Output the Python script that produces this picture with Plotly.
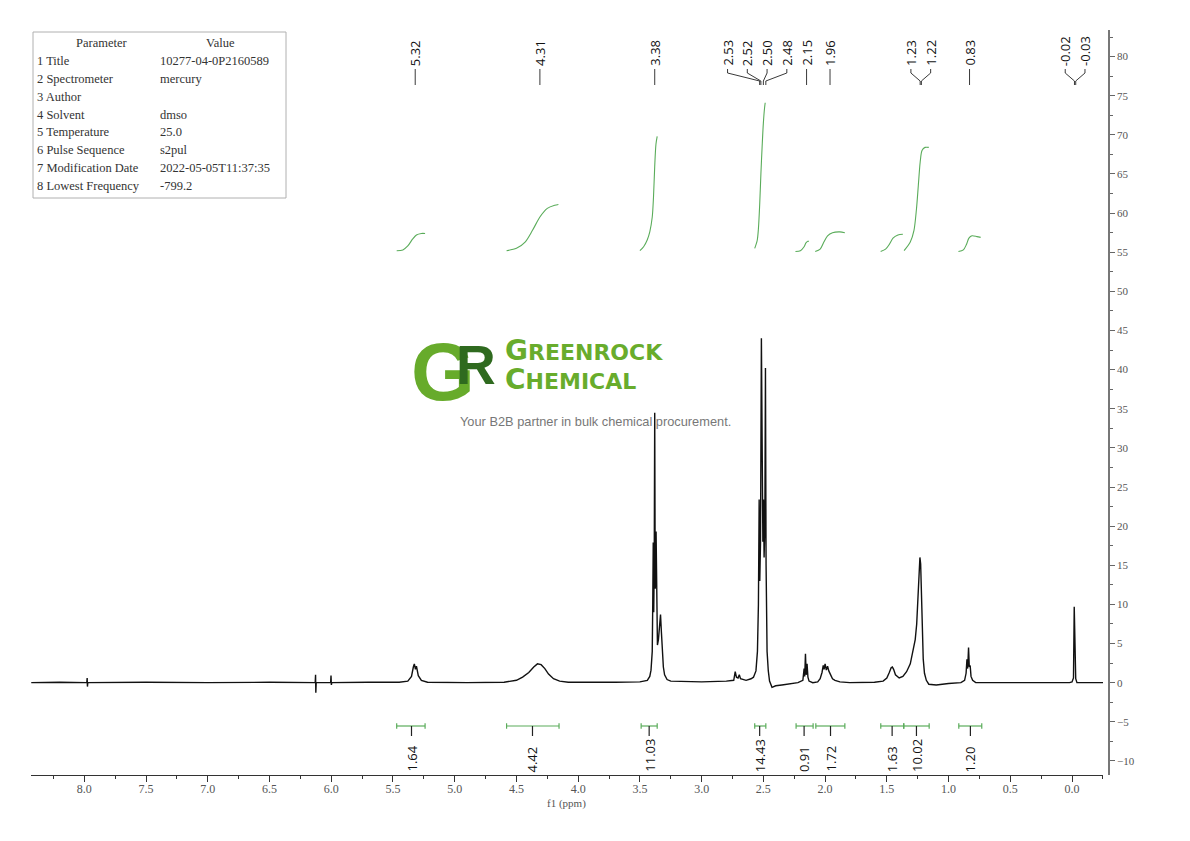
import plotly.graph_objects as go

# ---------------- data ----------------
spec_ppm = [8.43, 8.20, 7.98, 7.977, 7.975, 7.972, 7.50, 7.00, 6.50, 6.13, 6.127, 6.125, 6.122,
            6.005, 6.002, 5.999, 5.996, 5.70, 5.45, 5.38, 5.35, 5.335, 5.327, 5.318, 5.310, 5.295,
            5.27, 5.22, 4.90, 4.60, 4.50, 4.45, 4.40, 4.36, 4.33, 4.30, 4.27, 4.24, 4.20, 4.15,
            4.08, 3.70, 3.50, 3.44, 3.42, 3.41, 3.40, 3.396, 3.392, 3.388, 3.384, 3.380, 3.376,
            3.372, 3.369, 3.365, 3.358, 3.350, 3.340, 3.333, 3.326, 3.318, 3.310, 3.300, 3.280,
            3.250, 3.00, 2.80, 2.74, 2.728, 2.718, 2.705, 2.695, 2.685, 2.64, 2.60, 2.58, 2.56,
            2.548, 2.540, 2.534, 2.529, 2.523, 2.516, 2.510, 2.504, 2.499, 2.494, 2.488, 2.483,
            2.478, 2.470, 2.460, 2.450, 2.43, 2.40, 2.35, 2.30, 2.22, 2.18, 2.170, 2.165, 2.159,
            2.153, 2.146, 2.139, 2.13, 2.10, 2.06, 2.04, 2.025, 2.015, 2.008, 2.000, 1.990, 1.980,
            1.970, 1.955, 1.94, 1.92, 1.88, 1.80, 1.60, 1.53, 1.50, 1.48, 1.465, 1.455, 1.445,
            1.43, 1.40, 1.37, 1.34, 1.31, 1.29, 1.27, 1.258, 1.248, 1.240, 1.232, 1.226, 1.220,
            1.213, 1.205, 1.195, 1.18, 1.16, 1.10, 1.00, 0.90, 0.87, 0.858, 0.851, 0.845, 0.838,
            0.832, 0.825, 0.818, 0.805, 0.78, 0.40, 0.10, 0.02, 0.0, -0.012, -0.018, -0.024,
            -0.030, -0.040, -0.251]
spec_int = [0.0, 0.05, 0.0, 0.6, -0.5, 0.0, 0.05, 0.0, 0.05, 0.0, 1.0, -1.3, 0.0,
            0.0, 0.9, -0.3, 0.0, 0.05, 0.05, 0.2, 0.8, 2.0, 2.4, 1.7, 2.1, 0.9,
            0.3, 0.05, 0.0, 0.05, 0.3, 0.7, 1.3, 2.0, 2.4, 2.3, 1.8, 1.1, 0.5, 0.2,
            0.05, 0.05, 0.1, 0.3, 0.8, 1.6, 4.0, 10.0, 17.9, 9.0, 15.0, 34.5, 12.0,
            13.0, 19.3, 8.0, 4.8, 5.5, 8.0, 8.7, 6.5, 3.5, 2.0, 1.0, 0.4,
            0.2, 0.1, 0.2, 0.3, 1.4, 0.7, 0.6, 1.0, 0.5, 0.3, 0.5, 0.7, 1.5,
            4.0, 10.0, 23.4, 13.0, 18.0, 44.0, 19.0, 18.0, 23.4, 16.0, 20.0, 40.2,
            15.0, 4.0, 1.5, 0.2, -0.6, -0.4, -0.3, -0.2, 0.0, 0.3, 1.8, 0.8, 3.7,
            1.0, 2.4, 0.7, 0.2, 0.0, 0.1, 0.5, 1.3, 2.2, 1.7, 2.4, 1.6, 2.1,
            1.5, 1.0, 0.5, 0.3, 0.1, 0.0, 0.05, 0.2, 0.6, 1.3, 1.9, 2.0, 1.7,
            1.0, 0.6, 0.8, 1.4, 2.4, 4.0, 5.5, 7.5, 10.5, 14.0, 16.0, 15.2, 11.5,
            6.5, 3.0, 1.2, 0.3, -0.2, -0.3, -0.1, 0.0, 0.3, 1.2, 3.0, 1.8, 4.5,
            2.0, 2.2, 0.8, 0.3, 0.0, 0.0, 0.05, 0.0, 0.1, 0.6, 9.7, 4.0,
            0.5, 0.0, 0.0]

peak_labels = [5.32, 4.31, 3.38, 2.53, 2.52, 2.50, 2.48, 2.15, 1.96, 1.23, 1.22, 0.83, -0.02, -0.03]

integral_ppm = [
    [5.47, 5.42, 5.38, 5.34, 5.31, 5.27, 5.24],
    [4.58, 4.50, 4.43, 4.37, 4.31, 4.25, 4.19, 4.16],
    [3.50, 3.47, 3.44, 3.42, 3.40, 3.39, 3.38, 3.37, 3.36],
    [2.57, 2.55, 2.54, 2.53, 2.52, 2.51, 2.50, 2.49, 2.485],
    [2.24, 2.20, 2.17, 2.155, 2.14, 2.13],
    [2.08, 2.04, 2.01, 1.98, 1.94, 1.88, 1.84],
    [1.55, 1.51, 1.48, 1.45, 1.41, 1.37],
    [1.36, 1.31, 1.28, 1.26, 1.245, 1.23, 1.215, 1.19, 1.16],
    [0.92, 0.88, 0.855, 0.835, 0.81, 0.77, 0.74],
]
integral_val = [
    [55.2, 55.3, 55.8, 56.7, 57.2, 57.4, 57.4],
    [55.2, 55.5, 56.3, 57.8, 59.5, 60.6, 61.0, 61.1],
    [55.2, 55.7, 56.6, 57.6, 59.5, 62.0, 66.0, 68.8, 69.8],
    [55.5, 56.5, 58.0, 61.0, 65.0, 68.5, 71.5, 73.5, 74.1],
    [55.1, 55.2, 55.7, 56.2, 56.4, 56.4],
    [55.1, 55.4, 56.3, 57.1, 57.5, 57.6, 57.5],
    [55.1, 55.4, 56.0, 56.8, 57.2, 57.3],
    [55.2, 56.3, 57.8, 60.5, 63.5, 66.5, 68.0, 68.4, 68.4],
    [55.1, 55.3, 56.0, 56.8, 57.1, 57.0, 56.9],
]

integ_from = [5.47, 4.58, 3.49, 2.57, 2.235, 2.075, 1.549, 1.363, 0.917]
integ_to = [5.24, 4.155, 3.36, 2.48, 2.097, 1.84, 1.363, 1.157, 0.731]
integ_mark = [5.35, 4.37, 3.425, 2.53, 2.17, 1.956, 1.457, 1.26, 0.823]
integ_values = ["1.64", "4.42", "11.03", "14.43", "0.91", "1.72", "1.63", "10.02", "1.20"]

param_names = ["Title", "Spectrometer", "Author", "Solvent", "Temperature",
               "Pulse Sequence", "Modification Date", "Lowest Frequency"]
param_values = ["10277-04-0P2160589", "mercury", "", "dmso", "25.0",
                "s2pul", "2022-05-05T11:37:35", "-799.2"]

x_ticks = [8.0, 7.5, 7.0, 6.5, 6.0, 5.5, 5.0, 4.5, 4.0, 3.5, 3.0, 2.5, 2.0, 1.5, 1.0, 0.5, 0.0]

# ---------------- layout geometry ----------------
# the page body has an 8 px margin, so the figure is drawn 8 px in from the window corner
OFF = 8
W, H = 1190 - 2 * OFF, 841 - 2 * OFF
L, T = 31 - OFF, 30 - OFF
R = W - (1109 - OFF)
B = H - (775 - OFF)
PW, PH = W - L - R, H - T - B
X0, X1 = 8.432, -0.251
Y0, Y1 = -11.8, 83.4
XDOM = (1103 - 31) / PW


def px_x(px):
    return (px - 31) / PW


def px_y(py):
    return (775 - py) / PH


def py2val(py):
    return Y1 - (py - 30) / PH * (Y1 - Y0)


GREEN = "#5aac5a"
SERIF = "Liberation Serif"
SANS = "Open Sans"

fig = go.Figure()

# spectrum
fig.add_trace(go.Scatter(x=spec_ppm, y=spec_int, mode="lines",
                         line=dict(color="#111111", width=1.4), hoverinfo="skip"))

# integral curves
for xs, ys in zip(integral_ppm, integral_val):
    fig.add_trace(go.Scatter(x=xs, y=ys, mode="lines",
                             line=dict(color=GREEN, width=1.1, shape="spline", smoothing=0.8),
                             hoverinfo="skip"))

# integration bars
bar_y = py2val(726)
cap = 0.35
bx, by = [], []
for a, b in zip(integ_from, integ_to):
    bx += [a, b, None, a, a, None, b, b, None]
    by += [bar_y, bar_y, None, bar_y - cap, bar_y + cap, None, bar_y - cap, bar_y + cap, None]
fig.add_trace(go.Scatter(x=bx, y=by, mode="lines", line=dict(color=GREEN, width=1.2),
                         hoverinfo="skip"))
mx, my = [], []
for m in integ_mark:
    mx += [m, m, None]
    my += [bar_y, py2val(736), None]
fig.add_trace(go.Scatter(x=mx, y=my, mode="lines", line=dict(color="#222222", width=1.2),
                         hoverinfo="skip"))

annotations = []
for m, t in zip(integ_mark, integ_values):
    annotations.append(dict(x=m, y=py2val(774), xref="x", yref="y", text=t, textangle=-90,
                            showarrow=False, xanchor="center", yanchor="bottom",
                            font=dict(family=SANS, size=13, color="#111111")))


# peak label placement: multiplets are spread around their centre,
# and a multiplet that collides with a neighbour is pushed away from it
def place_labels(values, gap, join=0.06):
    groups = [[values[0]]]
    for v in values[1:]:
        if groups[-1][-1] - v <= join:
            groups[-1].append(v)
        else:
            groups.append([v])
    pos = []
    for g in groups:
        c = sum(g) / len(g)
        pos.append([c + gap * ((len(g) - 1) / 2 - i) for i in range(len(g))])
    for _ in range(20):
        moved = False
        for i in range(len(pos) - 1):
            deficit = gap - (pos[i][-1] - pos[i + 1][0])
            if deficit > 1e-9:
                moved = True
                if len(pos[i]) >= len(pos[i + 1]):
                    pos[i] = [p + deficit for p in pos[i]]
                else:
                    pos[i + 1] = [p - deficit for p in pos[i + 1]]
        if not moved:
            break
    return [p for g in pos for p in g]


label_pos = place_labels(peak_labels, 0.16)
cx, cy = [], []
for p, lp in zip(peak_labels, label_pos):
    cx += [lp, lp, p, p, None]
    cy += [py2val(69), py2val(73), py2val(81), py2val(85), None]
    annotations.append(dict(x=lp, y=py2val(68), xref="x", yref="y", text=f"{p:.2f}",
                            textangle=-90, showarrow=False, xanchor="center", yanchor="bottom",
                            font=dict(family=SANS, size=13, color="#111111")))
fig.add_trace(go.Scatter(x=cx, y=cy, mode="lines", line=dict(color="#222222", width=0.9),
                         hoverinfo="skip"))

# parameter table
shapes = [dict(type="rect", xref="paper", yref="paper", x0=px_x(33), x1=px_x(286),
               y0=px_y(198), y1=px_y(32), line=dict(color="#b0b0b0", width=1))]
tfont = dict(family=SERIF, size=12.5, color="#333333")
annotations.append(dict(x=px_x(102), y=px_y(43), xref="paper", yref="paper", text="Parameter",
                        showarrow=False, xanchor="center", yanchor="middle", font=tfont))
annotations.append(dict(x=px_x(220), y=px_y(43), xref="paper", yref="paper", text="Value",
                        showarrow=False, xanchor="center", yanchor="middle", font=tfont))
for i, (nm, val) in enumerate(zip(param_names, param_values)):
    yy = px_y(61 + i * 17.85)
    annotations.append(dict(x=px_x(35), y=yy, xref="paper", yref="paper", text=f"{i + 1} {nm}",
                            showarrow=False, xanchor="left", yanchor="middle", font=tfont))
    if val:
        annotations.append(dict(x=px_x(158), y=yy, xref="paper", yref="paper", text=val,
                                showarrow=False, xanchor="left", yanchor="middle", font=tfont))

# watermark logo
annotations += [
    dict(x=px_x(443), y=px_y(371), xref="paper", yref="paper", text="G", showarrow=False,
         xanchor="center", yanchor="middle",
         font=dict(family="Liberation Sans", size=82, color="#67ab2b", weight="bold")),
    dict(x=px_x(476), y=px_y(365), xref="paper", yref="paper", text="R", showarrow=False,
         xanchor="center", yanchor="middle",
         font=dict(family="Liberation Sans", size=55, color="#2f6a1f", weight="bold")),
    dict(x=px_x(503), y=px_y(365), xref="paper", yref="paper",
         text='<span style="font-size:28px">G</span>REENROCK<br>'
              '<span style="font-size:28px">C</span>HEMICAL',
         showarrow=False, xanchor="left", yanchor="middle", align="left",
         font=dict(family="DejaVu Sans", size=22, color="#68ac2c", weight="bold")),
    dict(x=px_x(595), y=px_y(421), xref="paper", yref="paper",
         text="Your B2B partner in bulk chemical procurement.", showarrow=False,
         xanchor="center", yanchor="middle",
         font=dict(family="Liberation Sans", size=12.8, color="#777777")),
    dict(x=px_x(566), y=px_y(803), xref="paper", yref="paper", text="f1 (ppm)", showarrow=False,
         xanchor="center", yanchor="middle", font=dict(family=SERIF, size=11, color="#555555")),
]

fig.update_layout(
    width=W, height=H, margin=dict(l=L, r=R, t=T, b=B),
    paper_bgcolor="white", plot_bgcolor="white", showlegend=False,
    annotations=annotations, shapes=shapes,
    xaxis=dict(range=[X0, X1], domain=[0, XDOM], tickvals=x_ticks,
               ticktext=[f"{v:.1f}" for v in x_ticks],
               ticks="outside", ticklen=6, tickwidth=1, tickcolor="#333333",
               ticklabelstandoff=-4,
               minor=dict(dtick=0.25, tick0=0, ticks="outside", ticklen=3, tickcolor="#333333"),
               showline=True, linecolor="#333333", linewidth=1.3, showgrid=False,
               zeroline=False, tickfont=dict(family=SERIF, size=12, color="#555555")),
    yaxis=dict(range=[Y0, Y1], anchor="free", position=1.0, side="right",
               dtick=5, tick0=0, ticks="outside", ticklen=5, tickwidth=1, tickcolor="#666666",
               minor=dict(dtick=2.5, tick0=0, ticks="outside", ticklen=3, tickcolor="#666666"),
               showline=True, linecolor="#777777", linewidth=1.6, showgrid=False,
               zeroline=False, tickfont=dict(family=SERIF, size=11, color="#555555")),
)

fig.write_html("out.html")
